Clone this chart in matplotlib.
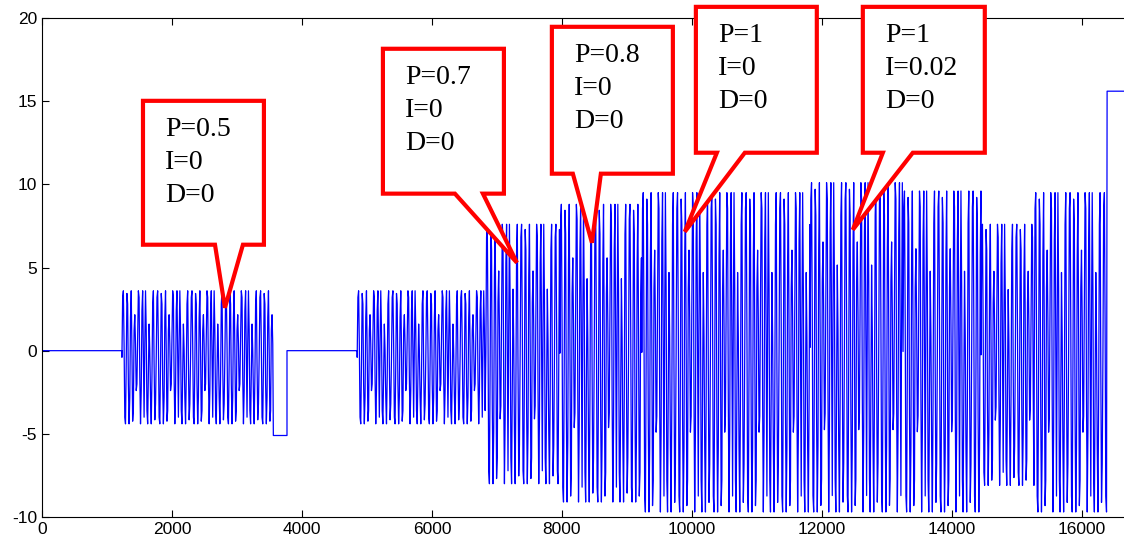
import numpy as np
import matplotlib.pyplot as plt
from matplotlib.patches import Polygon

plt.rcParams['axes.unicode_minus'] = False

# Segmentos do sinal (inicio, fim, nivel alto, nivel baixo); alto == baixo -> trecho constante
seg_start = [0, 1230, 3560, 3770, 4850, 6830, 7970, 9230, 11820, 13250, 14450, 15270, 16390]
seg_end = [1230, 3560, 3770, 4850, 6830, 7970, 9230, 11820, 13250, 14450, 15270, 16390, 16650]
seg_high = [0, 3.6, -5.1, 0, 3.6, 7.6, 8.8, 9.5, 10.1, 9.6, 7.6, 9.5, 15.6]
seg_low = [0, -4.4, -5.1, 0, -4.4, -8.0, -9.1, -9.7, -9.7, -9.7, -8.1, -9.7, 15.6]

# Padrao da oscilacao (normalizado 0..1), repetido ao longo de cada trecho
padrao = [0.50, 0.95, 1.00, 0.60, 0.05, 0.00, 0.45, 0.98, 0.90, 0.30, 0.00, 0.20,
          0.80, 1.00, 0.55, 0.02, 0.10, 0.70, 0.82, 0.60, 0.25, 0.30, 0.65, 1.00,
          0.95, 0.35, 0.00, 0.25, 0.85, 1.00, 0.50, 0.05, 0.60, 1.00, 0.70, 0.10,
          0.00, 0.40, 0.75, 0.55, 0.20, 0.00, 0.35, 0.90, 1.00, 0.45, 0.03, 0.15]
passo = 11

# Balões: texto, caixa (esq, dir, baixo, topo), base da ponta (esq, dir), ponta (x, y)
textos = ['P=0.5\nI=0\nD=0', 'P=0.7\nI=0\nD=0', 'P=0.8\nI=0\nD=0',
          'P=1\nI=0\nD=0', 'P=1\nI=0.02\nD=0']
caixa_esq = [1554, 5246, 7846, 10062, 12631]
caixa_dir = [3415, 7108, 9708, 11923, 14508]
caixa_baixo = [6.37, 9.44, 10.64, 11.9, 11.9]
caixa_topo = [15.02, 18.15, 19.47, 20.67, 20.67]
base_esq = [2662, 6354, 8169, 10385, 12939]
base_dir = [3092, 6785, 8600, 10815, 13400]
ponta_x = [2815, 7308, 8462, 9892, 12477]
ponta_y = [2.58, 5.29, 6.49, 7.15, 7.27]

xs, ys = [], []
for a, b, hi, lo in zip(seg_start, seg_end, seg_high, seg_low):
    if hi == lo:
        xs += [a, b]
        ys += [hi, hi]
    else:
        t = np.arange(a, b, passo)
        p = np.resize(padrao, len(t))
        xs += list(t)
        ys += list(lo + p * (hi - lo))

fig = plt.figure(figsize=(11.24, 5.45), dpi=100)
ax = fig.add_axes([42 / 1124, 1 - 517 / 545, 1 - 42 / 1124, (517 - 18) / 545])
ax.plot(xs, ys, color='#0000ff', lw=0.9)

ax.set_xlim(0, 16650)
ax.set_ylim(-10, 20)
ax.set_xticks(range(0, 16001, 2000))
ax.set_yticks(range(-10, 21, 5))
ax.tick_params(direction='in', top=True, right=False, length=5, width=0.8,
               labelsize=12.5)
ax.spines['right'].set_visible(False)
for lab in ax.get_xticklabels() + ax.get_yticklabels():
    lab.set_fontfamily('Liberation Sans')
for s in ax.spines.values():
    s.set_linewidth(0.8)

for i in range(len(textos)):
    pts = [(caixa_esq[i], caixa_topo[i]), (caixa_dir[i], caixa_topo[i]),
           (caixa_dir[i], caixa_baixo[i]), (base_dir[i], caixa_baixo[i]),
           (ponta_x[i], ponta_y[i]), (base_esq[i], caixa_baixo[i]),
           (caixa_esq[i], caixa_baixo[i])]
    ax.add_patch(Polygon(pts, closed=True, facecolor='white', edgecolor='#ff0000',
                         lw=3, joinstyle='miter', zorder=5, clip_on=False))
    ax.text(caixa_esq[i] + 340, caixa_topo[i] - 1.0, textos[i], va='top', ha='left',
            fontfamily='Liberation Serif', fontsize=20, linespacing=1.4, zorder=6)

plt.savefig('out.png', dpi=100)
